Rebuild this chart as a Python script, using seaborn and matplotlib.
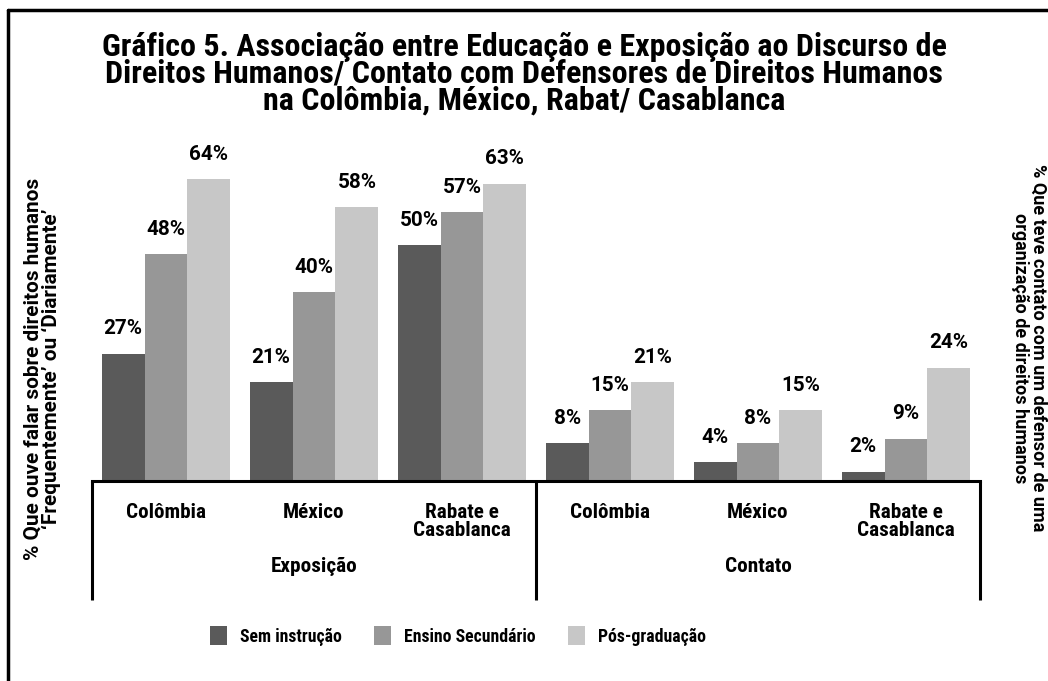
import matplotlib
matplotlib.use("Agg")
import matplotlib.pyplot as plt
import seaborn as sns
import pandas as pd
from matplotlib import font_manager as fm
from matplotlib.lines import Line2D
from matplotlib.patches import Patch

# ---- data ----
countries = ["Colômbia", "México", "Rabate e\nCasablanca"]
measures = ["Exposição", "Contato"]
levels = ["Sem instrução", "Ensino Secundário", "Pós-graduação"]
exposure_sem = [27, 21, 50]
exposure_sec = [48, 40, 57]
exposure_pos = [64, 58, 63]
contact_sem = [8, 4, 2]
contact_sec = [15, 8, 9]
contact_pos = [21, 15, 24]
title_lines = ["Gráfico 5. Associação entre Educação e Exposição ao Discurso de",
               "Direitos Humanos/ Contato com Defensores de Direitos Humanos",
               "na Colômbia, México, Rabat/ Casablanca"]
ylabel_left = "% Que ouve falar sobre direitos humanos\n‘Frequentemente’ ou ‘Diariamente’"
ylabel_right = "% Que teve contato com um defensor de uma\norganização de direitos humanos"
colors = ["#5a5a5a", "#979797", "#c7c7c7"]

series = {
    "Exposição": [exposure_sem, exposure_sec, exposure_pos],
    "Contato": [contact_sem, contact_sec, contact_pos],
}
rows = []
slots = []
for m in measures:
    for ci, c in enumerate(countries):
        slot = f"{m}|{c}"
        slots.append(slot)
        for li, lv in enumerate(levels):
            rows.append({"slot": slot, "level": lv, "value": series[m][li][ci]})
df = pd.DataFrame(rows)


def pick(prefs):
    for p in prefs:
        ok = [f for f in fm.fontManager.ttflist
              if f.name == p and f.weight in (700, "bold") and "[" not in f.fname
              and "Italic" not in f.fname and f.style == "normal"]
        if ok:
            return p
    return "DejaVu Sans"


F_COND = pick(["Roboto Condensed", "Liberation Sans Narrow", "Barlow Semi Condensed",
               "Asap Condensed"])
F_WIDE = pick(["Roboto", "Liberation Sans", "Open Sans", "DejaVu Sans"])

sns.set_theme(style="white")
plt.rcParams["font.family"] = [F_COND, "DejaVu Sans"]
plt.rcParams["font.weight"] = "bold"
plt.rcParams["text.color"] = "black"
plt.rcParams["xtick.color"] = "black"

W, H = 1048, 681
fig = plt.figure(figsize=(W / 100, H / 100), dpi=100)
renderer = fig.canvas.get_renderer()


def fit(text, family, target, base=14.0):
    t = fig.text(0, 0, text, fontsize=base, family=[family, "DejaVu Sans"], weight="bold")
    w = t.get_window_extent(renderer).width
    t.remove()
    return base * target / w


fs_title = fit(title_lines[0], F_COND, 846)
fs_val = fit("48%", F_WIDE, 39)
fs_cat = fit("Colômbia", F_COND, 80)
fs_grp = fit("Exposição", F_COND, 87)
fs_yl = fit(ylabel_left.split("\n")[0], F_WIDE, 382)
fs_yr = fit(ylabel_right.split("\n")[0], F_WIDE, 368)
fs_leg = 12.8

x0, x1 = 92, 980
ybase, ytop = 481, 481 - 72 * 4.72
ax = fig.add_axes([x0 / W, (H - ybase) / H, (x1 - x0) / W, (ybase - ytop) / H])

sns.barplot(data=df, x="slot", y="value", hue="level", order=slots, hue_order=levels,
            palette=colors, width=0.87, saturation=1, ax=ax, legend=False,
            linewidth=0, errorbar=None)
ax.set_ylim(0, 72)
ax.set_xlim(-0.5, len(slots) - 0.5)

for cont, lv in zip(ax.containers, levels):
    vals = [df[(df.slot == s) & (df.level == lv)].value.iloc[0] for s in slots]
    ax.bar_label(cont, labels=[f"{v}%" for v in vals], padding=11,
                 fontsize=fs_val, fontweight="bold", color="black",
                 family=[F_WIDE, "DejaVu Sans"])

for sp in ["top", "right", "left"]:
    ax.spines[sp].set_visible(False)
ax.spines["bottom"].set_linewidth(2.2)
ax.spines["bottom"].set_color("black")
ax.set_yticks([])
ax.set_xticks(range(len(slots)))
ax.set_xticklabels(countries * 2, fontsize=fs_cat, fontweight="bold", linespacing=0.9)
ax.tick_params(axis="x", length=0, pad=16, colors="black")
ax.set_xlabel("")
ax.set_ylabel("")

tr = ax.get_xaxis_transform()
ylow = (ybase - 600) / (ybase - ytop)
ax.vlines([-0.5, 2.5, 5.5], ylow, 0, transform=tr, colors="black", lw=2.2, clip_on=False)
yg = (ybase - 566) / (ybase - ytop)
for gi, m in enumerate(measures):
    ax.text(gi * 3 + 1, yg, m, transform=tr, ha="center", va="center",
            fontsize=fs_grp, fontweight="bold")

fig.text(524 / W, 1 - 32 / H, "\n".join(title_lines), ha="center", va="top",
         fontsize=fs_title, fontweight="bold", linespacing=0.87)
fig.text(42 / W, 1 - 369 / H, ylabel_left, rotation=90, ha="center", va="center",
         fontsize=fs_yl, fontweight="bold", linespacing=0.95, family=[F_WIDE, "DejaVu Sans"])
fig.text(1029 / W, 1 - 348 / H, ylabel_right, rotation=270, ha="center", va="center",
         fontsize=fs_yr, fontweight="bold", linespacing=0.95, family=[F_WIDE, "DejaVu Sans"])

px = fs_leg * 100 / 72
handles = [Patch(facecolor=c, edgecolor="none") for c in colors]
fig.legend(handles, levels, loc="center", bbox_to_anchor=(458 / W, 1 - 636 / H), ncol=3,
           frameon=False, prop={"size": fs_leg, "weight": "bold"},
           handlelength=17 / px, handleheight=22 / px, handletextpad=13 / px,
           columnspacing=32 / px)

fig.add_artist(Line2D([8 / W, 8 / W], [0, 1 - 10 / H], color="black", lw=2.5))
fig.add_artist(Line2D([8 / W, 1], [1 - 10 / H, 1 - 10 / H], color="black", lw=2.5))

fig.savefig("out.png", dpi=100)
